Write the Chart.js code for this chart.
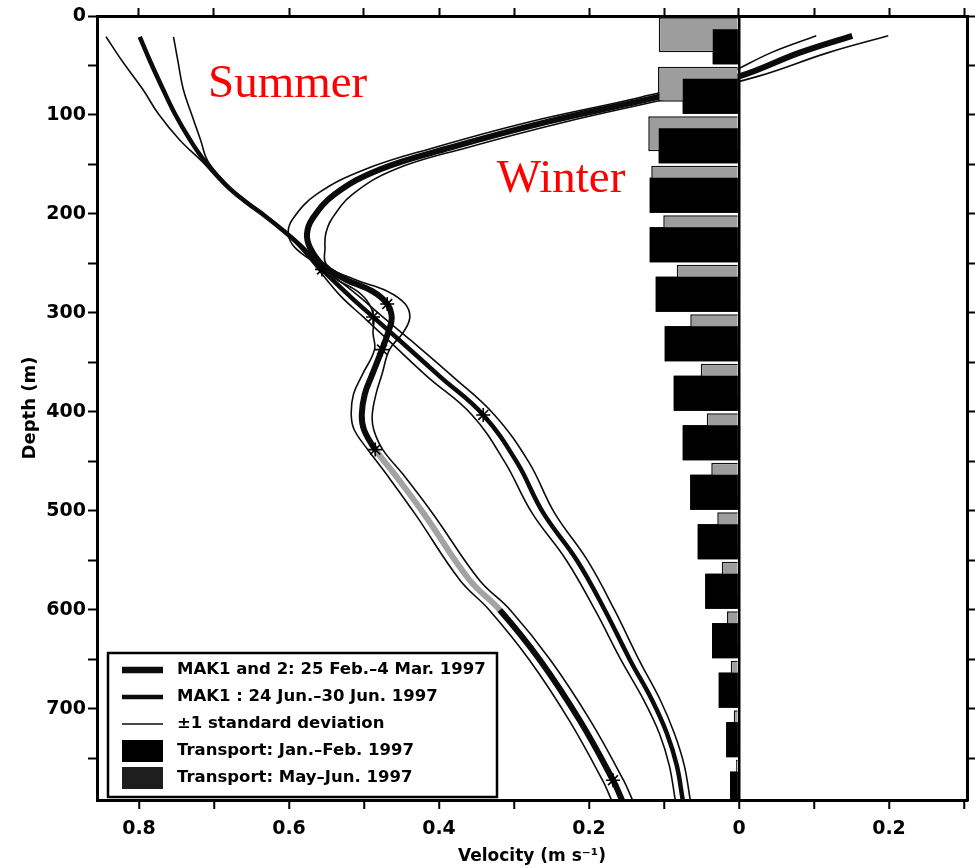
<!DOCTYPE html>
<html>
<head>
<meta charset="utf-8">
<title>Makassar Strait velocity profiles</title>
<script src="https://cdn.jsdelivr.net/npm/chart.js@4.4.1/dist/chart.umd.min.js"></script>
<style>
  html, body { margin: 0; padding: 0; background: #fff; }
  #wrap { width: 980px; height: 868px; position: relative; }
</style>
</head>
<body>
<div id="wrap"><canvas id="profile-chart"></canvas></div>
<script>
// ── Data ──────────────────────────────────────────────
// Winter (MAK1 and 2, 25 Feb.–4 Mar. 1997)
const winterDepth = [20, 37, 61, 82, 107, 133, 155, 180, 205, 220, 234, 251, 266, 278, 291, 305, 320, 337, 362, 382, 403, 418, 438, 463, 504, 570, 600, 651, 712, 772, 792];
const winterVel = [-0.151, -0.081, 0.0, 0.109, 0.256, 0.385, 0.479, 0.539, 0.569, 0.576, 0.572, 0.556, 0.525, 0.489, 0.469, 0.463, 0.468, 0.476, 0.489, 0.499, 0.503, 0.5, 0.485, 0.459, 0.419, 0.359, 0.319, 0.265, 0.212, 0.168, 0.156];
const winterStd = [0.048, 0.038, 0.025, 0.022, 0.024, 0.022, 0.02, 0.024, 0.026, 0.025, 0.02, 0.006, 0.012, 0.02, 0.024, 0.024, 0.02, 0.01, 0.013, 0.015, 0.014, 0.013, 0.01, 0.011, 0.012, 0.013, 0.014, 0.014, 0.014, 0.014, 0.014];

// Summer (MAK1, 24 Jun.–30 Jun. 1997)
const summerDepth = [21, 46, 74, 99, 125, 147, 170, 187, 202, 216, 232, 256, 283, 304, 328, 364, 403, 451, 502, 550, 600, 651, 691, 725, 757, 792];
const summerVel = [0.799, 0.785, 0.768, 0.752, 0.732, 0.712, 0.685, 0.659, 0.632, 0.609, 0.585, 0.556, 0.519, 0.488, 0.452, 0.399, 0.341, 0.296, 0.261, 0.216, 0.179, 0.145, 0.116, 0.096, 0.083, 0.075];
const summerStd = [0.045, 0.037, 0.027, 0.022, 0.014, 0.004, 0.002, 0.002, 0.002, 0.002, 0.003, 0.005, 0.012, 0.013, 0.015, 0.017, 0.015, 0.016, 0.015, 0.014, 0.013, 0.012, 0.011, 0.01, 0.01, 0.01];

// Current meter depths (asterisks)
const winterMeterDepth = [256, 291, 337, 438, 772];
const winterMeterVel = [0.556, 0.469, 0.476, 0.485, 0.168];
const summerMeterDepth = [304, 403];
const summerMeterVel = [0.488, 0.341];

// Transport per 50 m layer
const binDepth = [25, 75, 125, 175, 225, 275, 325, 375, 425, 475, 525, 575, 625, 675, 725, 775];
const transportJanFeb = [0.035, 0.075, 0.107, 0.119, 0.119, 0.111, 0.099, 0.087, 0.075, 0.065, 0.055, 0.045, 0.036, 0.027, 0.017, 0.012];
const transportMayJun = [0.107, 0.108, 0.121, 0.117, 0.101, 0.083, 0.065, 0.051, 0.043, 0.037, 0.029, 0.023, 0.016, 0.011, 0.007, 0.004];

const depthTicks = [0, 100, 200, 300, 400, 500, 600, 700];

const seasonTags = [
  { text: 'Summer', v: 0.708, d: 82 },
  { text: 'Winter', v: 0.323, d: 178 },
];

// ── Helpers ───────────────────────────────────────────
function toPoints(vel, depth, std, sign) {
  return depth.map((d, i) => ({ x: vel[i] + sign * (std ? std[i] : 0), y: d }));
}

const INK = '#0b0b0b';
// winter trace is printed light between the two deep meters
const inGreyStretch = c => c.p0.parsed.y >= 438 && c.p1.parsed.y <= 600;

Chart.defaults.font.family = "'DejaVu Sans', sans-serif";
Chart.defaults.color = '#000';

const lineBase = { type: 'line', pointRadius: 0, tension: 0.4, fill: false, borderCapStyle: 'butt' };

const datasets = [
  {
    type: 'bar', label: 'Transport: May–Jun. 1997', indexAxis: 'y', order: 0,
    data: binDepth.map((d, i) => ({ x: transportMayJun[i], y: d })),
    backgroundColor: '#9d9d9d', borderColor: '#111', borderWidth: 1.5,
    categoryPercentage: 0.485, barPercentage: 2.92,
  },
  {
    type: 'bar', label: 'Transport: Jan.–Feb. 1997', indexAxis: 'y', order: 1,
    data: binDepth.map((d, i) => ({ x: transportJanFeb[i], y: d })),
    backgroundColor: '#000', borderWidth: 0,
    categoryPercentage: 0.485, barPercentage: 2.92,
  },
  {
    ...lineBase, label: 'MAK1 and 2: 25 Feb.–4 Mar. 1997', order: 3,
    data: toPoints(winterVel, winterDepth, null, 0),
    borderColor: INK, borderWidth: 6,
    segment: { borderColor: c => inGreyStretch(c) ? '#a3a3a3' : undefined },
  },
  {
    ...lineBase, label: 'MAK1 : 24 Jun.–30 Jun. 1997', order: 3,
    data: toPoints(summerVel, summerDepth, null, 0),
    borderColor: INK, borderWidth: 4.5,
  },
  { ...lineBase, label: '±1 standard deviation', order: 4, data: toPoints(winterVel, winterDepth, winterStd, 1), borderColor: INK, borderWidth: 1.6 },
  { ...lineBase, label: 'w-', order: 4, data: toPoints(winterVel, winterDepth, winterStd, -1), borderColor: INK, borderWidth: 1.6 },
  { ...lineBase, label: 's+', order: 4, data: toPoints(summerVel, summerDepth, summerStd, 1), borderColor: INK, borderWidth: 1.6 },
  { ...lineBase, label: 's-', order: 4, data: toPoints(summerVel, summerDepth, summerStd, -1), borderColor: INK, borderWidth: 1.6 },
  {
    type: 'scatter', label: 'winter meters', order: 2,
    data: winterMeterDepth.map((d, i) => ({ x: winterMeterVel[i], y: d })),
    pointStyle: 'star', pointRadius: 7, borderColor: '#000', borderWidth: 1.6, backgroundColor: '#000',
  },
  {
    type: 'scatter', label: 'summer meters', order: 2,
    data: summerMeterDepth.map((d, i) => ({ x: summerMeterVel[i], y: d })),
    pointStyle: 'star', pointRadius: 7, borderColor: '#000', borderWidth: 1.6, backgroundColor: '#000',
  },
];

// ── Overlay: bar stacking, season tags, legend box ────
const overlayPlugin = {
  id: 'overlay',
  afterDatasetsDraw(chart) {
    // Jan–Feb bars are printed over the May–Jun ones
    const { ctx, chartArea: a } = chart;
    ctx.save();
    ctx.beginPath();
    ctx.rect(a.left, a.top, a.right - a.left, a.bottom - a.top);
    ctx.clip();
    chart.getDatasetMeta(1).controller.draw();
    ctx.restore();
  },
  afterDraw(chart) {
    const { ctx, chartArea: a, scales } = chart;
    ctx.save();

    // red season tags
    ctx.fillStyle = '#ff0000';
    ctx.font = "47px 'Liberation Serif', 'Times New Roman', serif";
    ctx.textAlign = 'left';
    ctx.textBaseline = 'alphabetic';
    seasonTags.forEach(t => {
      ctx.fillText(t.text, scales.x.getPixelForValue(t.v), scales.y.getPixelForValue(t.d));
    });

    // legend box, lower left inside the plot
    const ds = chart.data.datasets;
    const rows = [
      { kind: 'line', width: 6.5, label: ds[2].label },
      { kind: 'line', width: 4.5, label: ds[3].label },
      { kind: 'line', width: 1.6, label: ds[4].label },
      { kind: 'box', fill: '#000', label: ds[1].label },
      { kind: 'box', fill: '#1e1e1e', label: ds[0].label },
    ];
    const x0 = a.left + 11, y0 = a.bottom - 147, w = 389, h = 144;
    ctx.fillStyle = '#fff';
    ctx.fillRect(x0, y0, w, h);
    ctx.strokeStyle = '#000';
    ctx.lineWidth = 2.5;
    ctx.strokeRect(x0, y0, w, h);

    ctx.font = "bold 16.5px 'DejaVu Sans', sans-serif";
    ctx.textBaseline = 'middle';
    rows.forEach((r, i) => {
      const cy = y0 + 17 + i * 27;
      if (r.kind === 'line') {
        ctx.beginPath();
        ctx.lineWidth = r.width;
        ctx.strokeStyle = INK;
        ctx.moveTo(x0 + 14, cy);
        ctx.lineTo(x0 + 55, cy);
        ctx.stroke();
      } else {
        ctx.fillStyle = r.fill;
        ctx.fillRect(x0 + 14, cy - 11, 41, 22);
      }
      ctx.fillStyle = '#000';
      ctx.fillText(r.label, x0 + 69, cy);
    });
    ctx.restore();
  },
};

// ── Axes ──────────────────────────────────────────────
const AXIS_BORDER = { display: true, color: '#000', width: 3 };
const TICK_FONT = { size: 19, weight: 'bold' };
const VEL_MIN = -0.304, VEL_MAX = 0.856, DEPTH_MAX = 792;

const velocityLabel = v => {
  const r = Math.round(v * 10);
  if (r % 2 !== 0) return '';
  return r === 0 ? '0' : Math.abs(v).toFixed(1);
};

new Chart(document.getElementById('profile-chart'), {
  data: { datasets },
  plugins: [overlayPlugin],
  options: {
    responsive: true,
    maintainAspectRatio: false,
    animation: false,
    layout: { padding: 0 },
    plugins: { legend: { display: false }, tooltip: { enabled: false } },
    scales: {
      x: {
        type: 'linear', position: 'bottom', reverse: true, offset: false,
        min: VEL_MIN, max: VEL_MAX,
        border: AXIS_BORDER,
        grid: {
          drawOnChartArea: true, offset: false,
          color: c => (c.tick && Math.abs(c.tick.value) < 1e-9) ? '#000' : 'rgba(0,0,0,0)',
          lineWidth: 2.5, tickColor: '#000', tickWidth: 2, tickLength: 9,
        },
        ticks: {
          stepSize: 0.1, includeBounds: false, autoSkip: false, maxRotation: 0,
          font: TICK_FONT, padding: 9, callback: velocityLabel,
        },
        title: { display: true, text: 'Velocity (m s⁻¹)', font: { size: 17, weight: 'bold' }, padding: { top: 0, bottom: 1 } },
        afterFit: s => { s.height = 68; },
      },
      x2: {
        type: 'linear', position: 'top', reverse: true, offset: false,
        min: VEL_MIN, max: VEL_MAX,
        border: AXIS_BORDER,
        grid: { drawOnChartArea: false, offset: false, tickColor: '#000', tickWidth: 2, tickLength: 8 },
        ticks: { stepSize: 0.1, includeBounds: false, autoSkip: false, maxRotation: 0, font: { size: 2 }, padding: 0, callback: () => '' },
        afterFit: s => { s.height = 16; },
      },
      y: {
        type: 'linear', position: 'left', reverse: true, offset: false,
        min: 0, max: DEPTH_MAX,
        border: AXIS_BORDER,
        grid: { drawOnChartArea: false, offset: false, tickColor: '#000', tickWidth: 2, tickLength: 9 },
        ticks: {
          stepSize: 50, includeBounds: false, autoSkip: false, font: TICK_FONT, padding: 2,
          callback: v => depthTicks.includes(v) ? String(v) : '',
        },
        title: { display: true, text: 'Depth (m)', font: { size: 18, weight: 'bold' }, padding: { top: 20, bottom: 0 } },
        afterFit: s => { s.width = 97; },
      },
      y2: {
        type: 'linear', position: 'right', reverse: true, offset: false,
        min: 0, max: DEPTH_MAX,
        border: AXIS_BORDER,
        grid: { drawOnChartArea: false, offset: false, tickColor: '#000', tickWidth: 2, tickLength: 8 },
        ticks: { stepSize: 50, includeBounds: false, autoSkip: false, font: { size: 2 }, padding: 0, callback: () => '' },
        afterFit: s => { s.width = 13; },
      },
    },
  },
});
</script>
</body>
</html>
